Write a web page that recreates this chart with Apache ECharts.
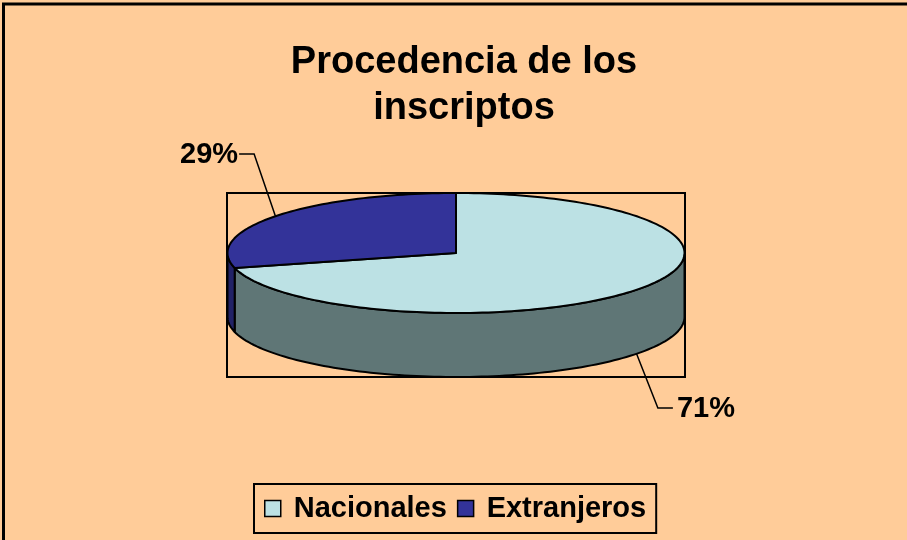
<!DOCTYPE html>
<html>
<head>
<meta charset="utf-8">
<script src="https://cdn.jsdelivr.net/npm/echarts@6/dist/echarts.min.js"></script>
<style>
  html, body { margin: 0; padding: 0; background: #FFCC99; }
  #chart { width: 907px; height: 540px; }
</style>
</head>
<body>
<div id="chart"></div>
<script>
// data
const categories = ["Nacionales", "Extranjeros"];
const shares = [71, 29];
const shareLabels = ["71%", "29%"];

// look
const topColors = ["#BCE1E4", "#333399"];
const sideColors = ["#5F7676", "#222266"];
const FONT = "'Liberation Sans', Arial, sans-serif";

// pie geometry (3d ellipse)
const cx = 456, cy = 253, rx = 228.5, ry = 60, depth = 64;

const total = shares.reduce((a, b) => a + b, 0);

function pt(a, dy) {
    return [cx + rx * Math.sin(a), cy - ry * Math.cos(a) + (dy || 0)];
}

function arc(a0, a1, dy) {
    const steps = Math.max(2, Math.ceil((a1 - a0) / (Math.PI * 2) * 240));
    const out = [];
    for (let k = 0; k <= steps; k++) {
        out.push(pt(a0 + (a1 - a0) * k / steps, dy));
    }
    return out;
}

function makeRender(i) {
    return function (params, api) {
        let before = 0;
        for (let j = 0; j < i; j++) before += shares[j];
        const val = api.value(0);
        const a0 = before / total * Math.PI * 2;
        const a1 = (before + val) / total * Math.PI * 2;
        const children = [];

        // side face, only the front half is seen
        const s0 = Math.max(a0, Math.PI / 2);
        const s1 = Math.min(a1, Math.PI * 1.5);
        if (s1 > s0) {
            const pts = arc(s0, s1, 0).concat(arc(s0, s1, depth).reverse());
            children.push({
                type: "polygon",
                z2: 1,
                shape: { points: pts },
                style: { fill: sideColors[i], stroke: "#000", lineWidth: 2, lineJoin: "round" }
            });
        }

        // top face
        children.push({
            type: "polygon",
            z2: 10,
            shape: { points: [[cx, cy]].concat(arc(a0, a1, 0)) },
            style: { fill: topColors[i], stroke: "#000", lineWidth: 2, lineJoin: "round" }
        });

        // label with leader line
        const am = (a0 + a1) / 2;
        const front = Math.cos(am) < 0;
        const anchor = pt(am, front ? depth : 0);
        const elbow = [anchor[0] + Math.sin(am) * 27, anchor[1] - Math.cos(am) * 95 - 4];
        const dir = Math.sin(am) < 0 ? -1 : 1;
        const end = [elbow[0] + dir * 15, elbow[1]];
        children.push({
            type: "polyline",
            z2: 20,
            shape: { points: [anchor, elbow, end] },
            style: { stroke: "#000", lineWidth: 1.5, fill: null }
        });
        children.push({
            type: "text",
            z2: 20,
            style: {
                x: end[0] + (dir < 0 ? -1 : 4),
                y: end[1] + 1,
                text: shareLabels[i],
                fill: "#000",
                font: "bold 29px " + FONT,
                align: dir < 0 ? "right" : "left",
                verticalAlign: "middle"
            }
        });

        return { type: "group", children: children };
    };
}

const chart = echarts.init(document.getElementById("chart"));

const option = {
    backgroundColor: "#FFCC99",
    animation: false,
    title: {
        text: "Procedencia de los\ninscriptos",
        left: 464,
        top: 40,
        padding: 0,
        textAlign: "center",
        textStyle: {
            fontFamily: FONT,
            fontSize: 38,
            fontWeight: "bold",
            color: "#000",
            lineHeight: 46
        }
    },
    legend: {
        data: categories,
        left: 254,
        top: 484,
        orient: "horizontal",
        padding: [10, 10, 10, 10],
        itemGap: 10,
        itemWidth: 16,
        itemHeight: 16,
        icon: "rect",
        borderColor: "#000",
        borderWidth: 2,
        selectedMode: false,
        itemStyle: { borderColor: "#000", borderWidth: 1.5 },
        textStyle: {
            fontFamily: FONT,
            fontSize: 29,
            fontWeight: "bold",
            color: "#000",
            padding: [0, 0, 0, 8]
        }
    },
    graphic: [
        {
            type: "rect",
            silent: true,
            shape: { x: 3.5, y: 4, width: 1000, height: 1000 },
            style: { fill: null, stroke: "#000", lineWidth: 3 }
        },
        {
            type: "rect",
            silent: true,
            shape: { x: 227, y: 193, width: 458, height: 184 },
            style: { fill: null, stroke: "#000", lineWidth: 2 }
        }
    ],
    series: categories.map((name, i) => ({
        type: "custom",
        name: name,
        coordinateSystem: "none",
        itemStyle: { color: topColors[i] },
        renderItem: makeRender(i),
        data: [[shares[i]]]
    }))
};

chart.setOption(option);
</script>
</body>
</html>
